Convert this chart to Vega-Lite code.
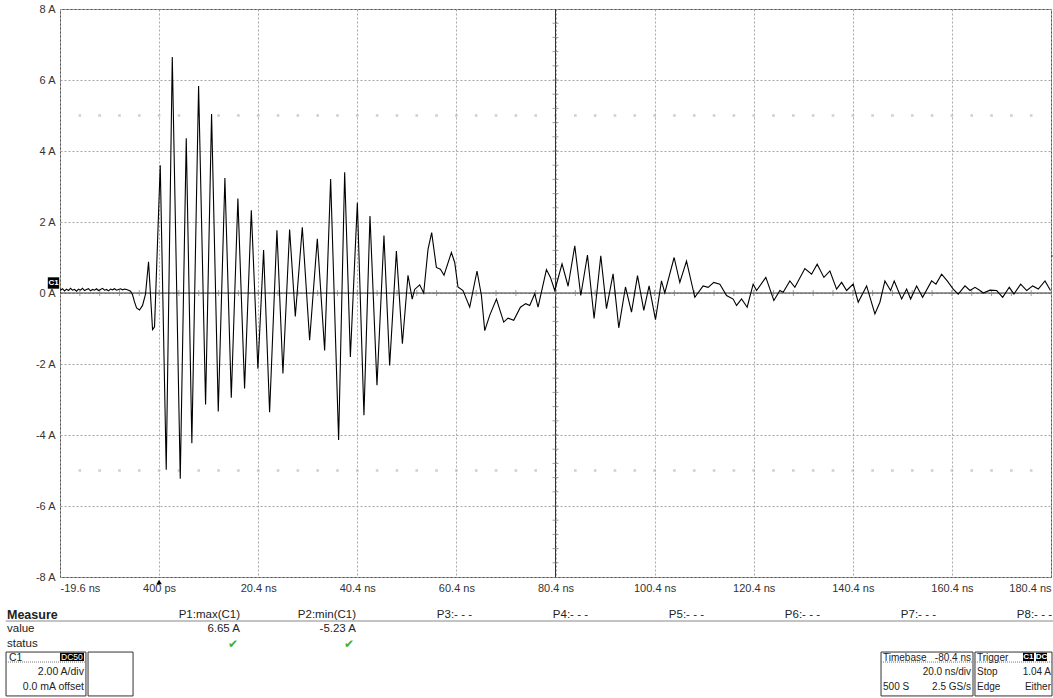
{
  "$schema": "https://vega.github.io/schema/vega-lite/v6.json",
  "width": 991,
  "height": 568,
  "autosize": {"type": "none"},
  "padding": {"left": 60, "top": 9, "right": 2, "bottom": 121},
  "background": "white",
  "config": {"view": {"stroke": "#555", "strokeWidth": 1}, "font": "Liberation Sans"},
  "datasets": {
    "one": [{"k": 1}],
    "wave": [
      {"t":-19.6,"a":0.08},{"t":-19.5,"a":0.08},{"t":-19.1,"a":0.12},{"t":-18.69,"a":0.06},{"t":-18.29,"a":0.11},{"t":-17.88,"a":0.07},{"t":-17.48,"a":0.13},{"t":-17.08,"a":0.08},{"t":-16.67,"a":0.1},{"t":-16.27,"a":0.05},{"t":-15.86,"a":0.11},{"t":-15.46,"a":0.08},{"t":-15.06,"a":0.13},{"t":-14.65,"a":0.07},{"t":-14.25,"a":0.1},{"t":-13.85,"a":0.12},{"t":-13.44,"a":0.06},{"t":-13.04,"a":0.1},{"t":-12.63,"a":0.08},{"t":-12.23,"a":0.12},{"t":-11.83,"a":0.07},{"t":-11.42,"a":0.1},{"t":-11.02,"a":0.13},{"t":-10.61,"a":0.08},{"t":-10.21,"a":0.1},{"t":-9.81,"a":0.06},{"t":-9.4,"a":0.11},{"t":-9.0,"a":0.09},{"t":-8.6,"a":0.12},{"t":-8.19,"a":0.08},{"t":-7.79,"a":0.1},{"t":-7.38,"a":0.12},{"t":-6.98,"a":0.09},{"t":-6.58,"a":0.11},{"t":-6.17,"a":0.1},{"t":-5.77,"a":0.08},{"t":-5.36,"a":0.05},{"t":-4.96,"a":-0.05},{"t":-4.56,"a":-0.25},{"t":-4.15,"a":-0.42},{"t":-3.55,"a":-0.48},{"t":-2.94,"a":-0.35},{"t":-2.34,"a":-0.03},{"t":-1.73,"a":0.88},{"t":-0.92,"a":-1.03},{"t":-0.52,"a":-0.95},{"t":0.63,"a":3.6},{"t":1.84,"a":-4.98},{"t":3.06,"a":6.65},{"t":4.67,"a":-5.23},{"t":5.88,"a":4.36},{"t":7.01,"a":-4.23},{"t":8.37,"a":5.83},{"t":9.78,"a":-3.14},{"t":10.99,"a":5.04},{"t":12.34,"a":-3.34},{"t":13.68,"a":3.24},{"t":14.97,"a":-2.95},{"t":16.3,"a":2.66},{"t":17.65,"a":-2.69},{"t":19.01,"a":2.33},{"t":20.34,"a":-2.13},{"t":21.49,"a":1.21},{"t":22.7,"a":-3.36},{"t":24.18,"a":1.77},{"t":25.39,"a":-2.27},{"t":26.74,"a":1.79},{"t":27.89,"a":-0.66},{"t":29.3,"a":1.85},{"t":30.78,"a":-1.33},{"t":32.33,"a":1.53},{"t":33.81,"a":-1.62},{"t":35.02,"a":3.21},{"t":36.63,"a":-4.14},{"t":37.85,"a":3.4},{"t":39.0,"a":-1.8},{"t":40.41,"a":2.54},{"t":41.74,"a":-3.44},{"t":42.96,"a":2.17},{"t":44.37,"a":-2.6},{"t":45.78,"a":1.62},{"t":46.93,"a":-2.04},{"t":48.29,"a":1.18},{"t":49.5,"a":-1.43},{"t":50.63,"a":0.5},{"t":51.48,"a":-0.17},{"t":51.98,"a":0.1},{"t":52.99,"a":0.23},{"t":53.8,"a":0.0},{"t":54.67,"a":1.23},{"t":55.41,"a":1.7},{"t":56.36,"a":0.72},{"t":57.17,"a":0.67},{"t":57.9,"a":0.5},{"t":59.39,"a":1.14},{"t":60.06,"a":0.86},{"t":60.72,"a":0.17},{"t":61.73,"a":0.07},{"t":63.09,"a":-0.4},{"t":64.56,"a":0.62},{"t":65.45,"a":-0.07},{"t":66.12,"a":-1.06},{"t":67.12,"a":-0.63},{"t":68.48,"a":-0.17},{"t":69.95,"a":-0.82},{"t":70.82,"a":-0.71},{"t":71.97,"a":-0.77},{"t":73.32,"a":-0.4},{"t":74.39,"a":-0.3},{"t":75.2,"a":-0.35},{"t":76.21,"a":-0.02},{"t":76.88,"a":-0.4},{"t":78.57,"a":0.66},{"t":79.38,"a":0.44},{"t":80.25,"a":0.07},{"t":81.72,"a":0.82},{"t":82.94,"a":0.19},{"t":84.29,"a":1.33},{"t":85.5,"a":-0.07},{"t":86.85,"a":1.07},{"t":88.19,"a":-0.72},{"t":89.54,"a":1.05},{"t":90.69,"a":-0.44},{"t":92.02,"a":0.54},{"t":93.17,"a":-0.98},{"t":94.52,"a":0.17},{"t":95.74,"a":-0.54},{"t":96.95,"a":0.49},{"t":98.22,"a":-0.49},{"t":99.29,"a":0.2},{"t":100.58,"a":-0.75},{"t":101.79,"a":0.34},{"t":102.46,"a":0.0},{"t":104.34,"a":1.0},{"t":105.49,"a":0.3},{"t":106.84,"a":0.9},{"t":108.52,"a":-0.12},{"t":110.19,"a":0.2},{"t":111.2,"a":0.16},{"t":112.35,"a":0.3},{"t":113.57,"a":0.25},{"t":114.92,"a":-0.07},{"t":116.25,"a":-0.17},{"t":116.94,"a":-0.35},{"t":117.95,"a":-0.17},{"t":119.08,"a":-0.4},{"t":120.29,"a":0.25},{"t":120.98,"a":0.07},{"t":122.85,"a":0.44},{"t":124.47,"a":-0.21},{"t":125.68,"a":0.07},{"t":126.35,"a":0.02},{"t":127.7,"a":0.34},{"t":128.71,"a":0.16},{"t":130.73,"a":0.69},{"t":132.08,"a":0.53},{"t":133.21,"a":0.81},{"t":134.57,"a":0.44},{"t":135.78,"a":0.62},{"t":137.13,"a":0.11},{"t":138.14,"a":0.3},{"t":139.15,"a":0.07},{"t":140.48,"a":0.25},{"t":141.49,"a":-0.26},{"t":143.19,"a":0.2},{"t":144.86,"a":-0.59},{"t":145.87,"a":-0.26},{"t":146.88,"a":0.34},{"t":148.03,"a":0.07},{"t":148.76,"a":0.34},{"t":150.26,"a":-0.17},{"t":151.26,"a":0.11},{"t":152.07,"a":-0.17},{"t":153.28,"a":0.2},{"t":154.49,"a":-0.12},{"t":156.31,"a":0.34},{"t":157.18,"a":0.25},{"t":158.33,"a":0.53},{"t":159.46,"a":0.34},{"t":160.67,"a":0.11},{"t":161.68,"a":-0.03},{"t":163.04,"a":0.2},{"t":164.05,"a":0.07},{"t":165.06,"a":0.16},{"t":166.07,"a":0.07},{"t":166.73,"a":0.0},{"t":168.08,"a":0.08},{"t":169.44,"a":0.07},{"t":170.65,"a":-0.12},{"t":171.98,"a":0.16},{"t":172.93,"a":-0.03},{"t":174.28,"a":0.25},{"t":175.5,"a":0.07},{"t":176.71,"a":0.2},{"t":177.84,"a":0.11},{"t":179.19,"a":0.34},{"t":180.3,"a":0.07}
    ],
    "tdiv": [{"t":-15.6},{"t":-11.6},{"t":-7.6},{"t":-3.6},{"t":0.4},{"t":4.4},{"t":8.4},{"t":12.4},{"t":16.4},{"t":20.4},{"t":24.4},{"t":28.4},{"t":32.4},{"t":36.4},{"t":40.4},{"t":44.4},{"t":48.4},{"t":52.4},{"t":56.4},{"t":60.4},{"t":64.4},{"t":68.4},{"t":72.4},{"t":76.4},{"t":80.4},{"t":84.4},{"t":88.4},{"t":92.4},{"t":96.4},{"t":100.4},{"t":104.4},{"t":108.4},{"t":112.4},{"t":116.4},{"t":120.4},{"t":124.4},{"t":128.4},{"t":132.4},{"t":136.4},{"t":140.4},{"t":144.4},{"t":148.4},{"t":152.4},{"t":156.4},{"t":160.4},{"t":164.4},{"t":168.4},{"t":172.4},{"t":176.4}],
    "adiv": [{"a":-7.6},{"a":-7.2},{"a":-6.8},{"a":-6.4},{"a":-6},{"a":-5.6},{"a":-5.2},{"a":-4.8},{"a":-4.4},{"a":-4},{"a":-3.6},{"a":-3.2},{"a":-2.8},{"a":-2.4},{"a":-2},{"a":-1.6},{"a":-1.2},{"a":-0.8},{"a":-0.4},{"a":0.4},{"a":0.8},{"a":1.2},{"a":1.6},{"a":2},{"a":2.4},{"a":2.8},{"a":3.2},{"a":3.6},{"a":4},{"a":4.4},{"a":4.8},{"a":5.2},{"a":5.6},{"a":6},{"a":6.4},{"a":6.8},{"a":7.2},{"a":7.6}],
    "cellsRight": [
      {"col":1,"row":0,"text":"P1:max(C1)"},{"col":2,"row":0,"text":"P2:min(C1)"},{"col":3,"row":0,"text":"P3:- - -"},{"col":4,"row":0,"text":"P4:- - -"},{"col":5,"row":0,"text":"P5:- - -"},{"col":6,"row":0,"text":"P6:- - -"},{"col":7,"row":0,"text":"P7:- - -"},{"col":8,"row":0,"text":"P8:- - -"},
      {"col":1,"row":1,"text":"6.65 A"},{"col":2,"row":1,"text":"-5.23 A"}
    ],
    "cellsLeft": [
      {"role":"title","row":0,"text":"Measure"},{"role":"label","row":1,"text":"value"},{"role":"label","row":2,"text":"status"}
    ],
    "status": [{"col":1,"ok":"yes"},{"col":2,"ok":"yes"}],
    "boxText": [
      {"box":"C1","part":"label","row":3,"text":"C1"},
      {"box":"C1","part":"value","row":4,"text":"2.00 A/div"},
      {"box":"C1","part":"value","row":5,"text":"0.0 mA offset"},
      {"box":"TB","part":"label","row":3,"text":"Timebase"},
      {"box":"TB","part":"value","row":3,"text":"-80.4 ns"},
      {"box":"TB","part":"value","row":4,"text":"20.0 ns/div"},
      {"box":"TB","part":"label","row":5,"text":"500 S"},
      {"box":"TB","part":"value","row":5,"text":"2.5 GS/s"},
      {"box":"TR","part":"label","row":3,"text":"Trigger"},
      {"box":"TR","part":"label","row":4,"text":"Stop"},
      {"box":"TR","part":"value","row":4,"text":"1.04 A"},
      {"box":"TR","part":"label","row":5,"text":"Edge"},
      {"box":"TR","part":"value","row":5,"text":"Either"}
    ]
  },
  "layer": [
    {
      "layer": [
        {
          "data": {"name": "tdiv"},
          "mark": {"type": "point", "shape": "square", "filled": true, "size": 7, "color": "#bdbdbd"},
          "encoding": {
            "x": {"field": "t", "type": "quantitative", "scale": {"domain": [-19.6, 180.4], "nice": false, "zero": false}},
            "y": {"datum": 5, "type": "quantitative", "scale": {"domain": [-8, 8], "nice": false, "zero": false}}
          }
        },
        {
          "data": {"name": "tdiv"},
          "mark": {"type": "point", "shape": "square", "filled": true, "size": 7, "color": "#bdbdbd"},
          "encoding": {
            "x": {"field": "t", "type": "quantitative"},
            "y": {"datum": -5, "type": "quantitative"}
          }
        },
        {
          "data": {"name": "one"},
          "mark": {"type": "rule", "color": "#333", "strokeWidth": 1},
          "encoding": {"y": {"datum": 0, "type": "quantitative"}}
        },
        {
          "data": {"name": "one"},
          "mark": {"type": "rule", "color": "#333", "strokeWidth": 1},
          "encoding": {"x": {"datum": 80.4, "type": "quantitative"}}
        },
        {
          "data": {"name": "tdiv"},
          "mark": {"type": "tick", "orient": "vertical", "size": 6, "thickness": 1, "color": "#777"},
          "encoding": {
            "x": {"field": "t", "type": "quantitative"},
            "y": {"datum": 0, "type": "quantitative"}
          }
        },
        {
          "data": {"name": "adiv"},
          "mark": {"type": "tick", "orient": "horizontal", "size": 6, "thickness": 1, "color": "#777"},
          "encoding": {
            "x": {"datum": 80.4, "type": "quantitative"},
            "y": {"field": "a", "type": "quantitative"}
          }
        },
        {
          "data": {"name": "wave"},
          "mark": {"type": "line", "color": "#000", "strokeWidth": 1.1, "clip": true},
          "encoding": {
            "x": {
              "field": "t", "type": "quantitative",
              "scale": {"domain": [-19.6, 180.4], "nice": false, "zero": false},
              "axis": {
                "values": [-19.6, 0.4, 20.4, 40.4, 60.4, 80.4, 100.4, 120.4, 140.4, 160.4, 180.4],
                "labelExpr": "datum.value == 0.4 ? '400 ps' : datum.value + ' ns'",
                "grid": true, "gridDash": [2, 2], "gridColor": "#a6a6a6", "gridWidth": 1,
                "ticks": false, "domain": false, "labelFlush": true, "labelPadding": 5,
                "labelFont": "Liberation Sans", "labelFontSize": 11, "labelColor": "#333", "title": null
              }
            },
            "y": {
              "field": "a", "type": "quantitative",
              "scale": {"domain": [-8, 8], "nice": false, "zero": false},
              "axis": {
                "values": [-8, -6, -4, -2, 0, 2, 4, 6, 8],
                "labelExpr": "datum.value + ' A'",
                "grid": true, "gridDash": [2, 2], "gridColor": "#a6a6a6", "gridWidth": 1,
                "ticks": false, "domain": false, "labelPadding": 5,
                "labelFont": "Liberation Sans", "labelFontSize": 11, "labelColor": "#333", "title": null
              }
            }
          }
        },
        {
          "data": {"name": "one"},
          "mark": {"type": "point", "shape": "square", "filled": true, "size": 130, "color": "#000", "opacity": 1, "xOffset": -6.5, "yOffset": -10, "clip": false},
          "encoding": {"x": {"datum": -19.6, "type": "quantitative"}, "y": {"datum": 0, "type": "quantitative"}}
        },
        {
          "data": {"name": "one"},
          "mark": {"type": "text", "text": "C1", "color": "#fff", "fontSize": 8, "fontWeight": "bold", "xOffset": -6.5, "yOffset": -10, "align": "center", "baseline": "middle"},
          "encoding": {"x": {"datum": -19.6, "type": "quantitative"}, "y": {"datum": 0, "type": "quantitative"}}
        },
        {
          "data": {"name": "one"},
          "mark": {"type": "point", "shape": "triangle-up", "filled": true, "size": 30, "color": "#000", "opacity": 1, "yOffset": 5},
          "encoding": {"x": {"datum": 0.4, "type": "quantitative"}, "y": {"datum": -8, "type": "quantitative"}}
        },
        {
          "data": {"name": "one"},
          "mark": {"type": "tick", "orient": "horizontal", "size": 4, "thickness": 1, "color": "#000", "xOffset": 2},
          "encoding": {"x": {"datum": 180.4, "type": "quantitative"}, "y": {"datum": 1.04, "type": "quantitative"}}
        }
      ]
    },
    {
      "layer": [
        {
          "data": {"name": "one"},
          "mark": {"type": "rule", "color": "#888", "strokeWidth": 1},
          "encoding": {
            "x": {"datum": -1.02, "type": "quantitative", "scale": {"domain": [-1, 8], "range": [-52, 992], "nice": false, "zero": false}, "axis": null},
            "x2": {"datum": 8.01},
            "y": {"datum": 0.42, "type": "quantitative", "scale": {"domain": [0, 5], "range": [606, 677.5], "nice": false, "zero": false}, "axis": null}
          }
        },
        {
          "data": {"name": "cellsRight"},
          "mark": {"type": "text", "align": "right", "baseline": "middle", "fontSize": 11.5, "color": "#222"},
          "encoding": {
            "x": {"field": "col", "type": "quantitative", "scale": {"domain": [-1, 8], "range": [-52, 992], "nice": false, "zero": false}, "axis": null},
            "y": {"field": "row", "type": "quantitative", "scale": {"domain": [0, 5], "range": [606, 677.5], "nice": false, "zero": false}, "axis": null},
            "text": {"field": "text"}
          }
        },
        {
          "data": {"name": "cellsLeft"},
          "transform": [{"filter": "datum.role == 'label'"}],
          "mark": {"type": "text", "align": "left", "baseline": "middle", "fontSize": 11.5, "color": "#222", "dx": -1},
          "encoding": {
            "x": {"datum": -1, "type": "quantitative"},
            "y": {"field": "row", "type": "quantitative"},
            "text": {"field": "text"}
          }
        },
        {
          "data": {"name": "cellsLeft"},
          "transform": [{"filter": "datum.role == 'title'"}],
          "mark": {"type": "text", "align": "left", "baseline": "middle", "fontSize": 12.5, "fontWeight": "bold", "color": "#222", "dx": -1},
          "encoding": {
            "x": {"datum": -1, "type": "quantitative"},
            "y": {"field": "row", "type": "quantitative"},
            "text": {"field": "text"}
          }
        },
        {
          "data": {"name": "status"},
          "mark": {"type": "text", "text": "✔", "align": "center", "baseline": "middle", "fontSize": 12, "color": "#3cb043", "font": "DejaVu Sans", "dx": -7},
          "encoding": {
            "x": {"field": "col", "type": "quantitative"},
            "y": {"datum": 2, "type": "quantitative"}
          }
        },
        {
          "data": {"name": "one"},
          "mark": {"type": "rect", "fill": "#fff", "stroke": "#333", "strokeWidth": 1},
          "encoding": {"x": {"datum": -1.017, "type": "quantitative"}, "x2": {"datum": -0.328}, "y": {"datum": 2.59, "type": "quantitative"}, "y2": {"datum": 5.66}}
        },
        {
          "data": {"name": "one"},
          "mark": {"type": "rect", "fill": "#fff", "stroke": "#333", "strokeWidth": 1},
          "encoding": {"x": {"datum": -0.31, "type": "quantitative"}, "x2": {"datum": 0.078}, "y": {"datum": 2.59, "type": "quantitative"}, "y2": {"datum": 5.66}}
        },
        {
          "data": {"name": "one"},
          "mark": {"type": "rect", "fill": "#fff", "stroke": "#333", "strokeWidth": 1},
          "encoding": {"x": {"datum": 6.526, "type": "quantitative"}, "x2": {"datum": 7.319}, "y": {"datum": 2.59, "type": "quantitative"}, "y2": {"datum": 5.66}}
        },
        {
          "data": {"name": "one"},
          "mark": {"type": "rect", "fill": "#fff", "stroke": "#333", "strokeWidth": 1},
          "encoding": {"x": {"datum": 7.336, "type": "quantitative"}, "x2": {"datum": 8.0}, "y": {"datum": 2.59, "type": "quantitative"}, "y2": {"datum": 5.66}}
        },
        {
          "data": {"name": "one"},
          "mark": {"type": "rule", "color": "#777", "strokeDash": [1, 1]},
          "encoding": {"x": {"datum": -1.017, "type": "quantitative"}, "x2": {"datum": -0.328}, "y": {"datum": 3.29, "type": "quantitative"}}
        },
        {
          "data": {"name": "one"},
          "mark": {"type": "rule", "color": "#777", "strokeDash": [1, 1]},
          "encoding": {"x": {"datum": 6.526, "type": "quantitative"}, "x2": {"datum": 7.319}, "y": {"datum": 3.29, "type": "quantitative"}}
        },
        {
          "data": {"name": "one"},
          "mark": {"type": "rule", "color": "#777", "strokeDash": [1, 1]},
          "encoding": {"x": {"datum": 7.336, "type": "quantitative"}, "x2": {"datum": 8.0}, "y": {"datum": 3.29, "type": "quantitative"}}
        },
        {
          "data": {"name": "one"},
          "mark": {"type": "rect", "fill": "#000"},
          "encoding": {"x": {"datum": -0.552, "type": "quantitative"}, "x2": {"datum": -0.345}, "y": {"datum": 2.64, "type": "quantitative"}, "y2": {"datum": 3.22}}
        },
        {
          "data": {"name": "one"},
          "mark": {"type": "rect", "fill": "#000"},
          "encoding": {"x": {"datum": 7.75, "type": "quantitative"}, "x2": {"datum": 7.845}, "y": {"datum": 2.64, "type": "quantitative"}, "y2": {"datum": 3.22}}
        },
        {
          "data": {"name": "one"},
          "mark": {"type": "rect", "fill": "#000"},
          "encoding": {"x": {"datum": 7.862, "type": "quantitative"}, "x2": {"datum": 7.957}, "y": {"datum": 2.64, "type": "quantitative"}, "y2": {"datum": 3.22}}
        },
        {
          "data": {"name": "one"},
          "mark": {"type": "text", "text": "DC50", "align": "center", "baseline": "middle", "fontSize": 8.5, "color": "#fff"},
          "encoding": {"x": {"datum": -0.449, "type": "quantitative"}, "y": {"datum": 2.93, "type": "quantitative"}}
        },
        {
          "data": {"name": "one"},
          "mark": {"type": "text", "text": "C1", "align": "center", "baseline": "middle", "fontSize": 8, "fontWeight": "bold", "color": "#fff"},
          "encoding": {"x": {"datum": 7.797, "type": "quantitative"}, "y": {"datum": 2.93, "type": "quantitative"}}
        },
        {
          "data": {"name": "one"},
          "mark": {"type": "text", "text": "DC", "align": "center", "baseline": "middle", "fontSize": 8, "fontWeight": "bold", "color": "#fff"},
          "encoding": {"x": {"datum": 7.909, "type": "quantitative"}, "y": {"datum": 2.93, "type": "quantitative"}}
        },
        {
          "data": {"name": "boxText"},
          "transform": [{"filter": "datum.box == 'C1' && datum.part == 'label'"}],
          "mark": {"type": "text", "align": "left", "baseline": "middle", "fontSize": 10.5, "color": "#222", "dx": 3},
          "encoding": {"x": {"datum": -1.017, "type": "quantitative"}, "y": {"field": "row", "type": "quantitative"}, "text": {"field": "text"}}
        },
        {
          "data": {"name": "boxText"},
          "transform": [{"filter": "datum.box == 'C1' && datum.part == 'value'"}],
          "mark": {"type": "text", "align": "right", "baseline": "middle", "fontSize": 10.5, "color": "#222", "dx": -2},
          "encoding": {"x": {"datum": -0.328, "type": "quantitative"}, "y": {"field": "row", "type": "quantitative"}, "text": {"field": "text"}}
        },
        {
          "data": {"name": "boxText"},
          "transform": [{"filter": "datum.box == 'TB' && datum.part == 'label'"}],
          "mark": {"type": "text", "align": "left", "baseline": "middle", "fontSize": 10, "color": "#222", "dx": 2},
          "encoding": {"x": {"datum": 6.526, "type": "quantitative"}, "y": {"field": "row", "type": "quantitative"}, "text": {"field": "text"}}
        },
        {
          "data": {"name": "boxText"},
          "transform": [{"filter": "datum.box == 'TB' && datum.part == 'value'"}],
          "mark": {"type": "text", "align": "right", "baseline": "middle", "fontSize": 10, "color": "#222", "dx": -2},
          "encoding": {"x": {"datum": 7.319, "type": "quantitative"}, "y": {"field": "row", "type": "quantitative"}, "text": {"field": "text"}}
        },
        {
          "data": {"name": "boxText"},
          "transform": [{"filter": "datum.box == 'TR' && datum.part == 'label'"}],
          "mark": {"type": "text", "align": "left", "baseline": "middle", "fontSize": 10, "color": "#222", "dx": 2},
          "encoding": {"x": {"datum": 7.336, "type": "quantitative"}, "y": {"field": "row", "type": "quantitative"}, "text": {"field": "text"}}
        },
        {
          "data": {"name": "boxText"},
          "transform": [{"filter": "datum.box == 'TR' && datum.part == 'value'"}],
          "mark": {"type": "text", "align": "right", "baseline": "middle", "fontSize": 10, "color": "#222", "dx": -1},
          "encoding": {"x": {"datum": 8.0, "type": "quantitative"}, "y": {"field": "row", "type": "quantitative"}, "text": {"field": "text"}}
        }
      ]
    }
  ],
  "resolve": {"scale": {"x": "independent", "y": "independent"}, "axis": {"x": "independent", "y": "independent"}}
}
